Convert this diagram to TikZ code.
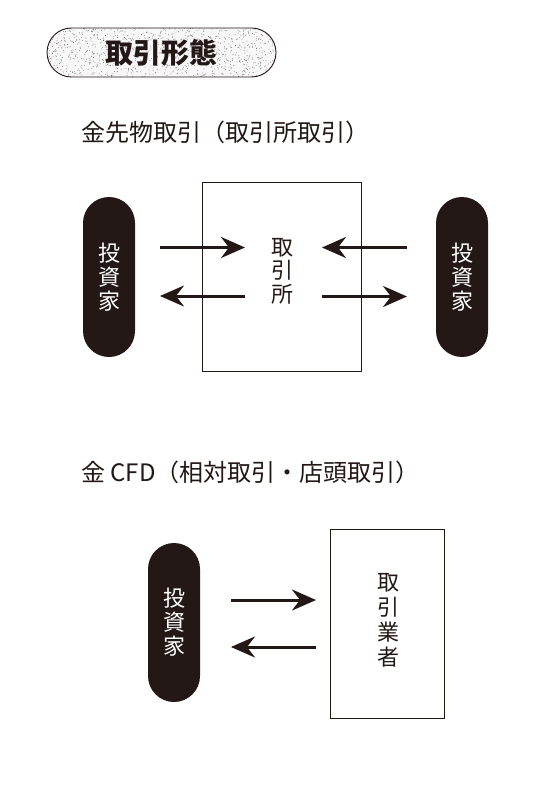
\documentclass[tikz,border=0pt]{standalone}
\usepackage{fontspec}
\setmainfont{Noto Sans CJK JP}
\usetikzlibrary{arrows.meta}
\definecolor{ink}{HTML}{231815}
\tikzset{
  investor/.style={fill=ink, text=white, rounded corners=26pt, minimum width=52pt, minimum height=160pt, inner sep=0pt, align=center, font=\fontsize{22}{24}\selectfont},
  market/.style={draw=ink, line width=0.9pt, inner sep=0pt, align=center, font=\fontsize{22}{24}\selectfont},
  flow/.style={draw=ink, line width=3pt, -{Stealth[length=24pt, width=21pt, inset=8pt]}},
  heading/.style={anchor=west, inner sep=0pt, text=ink, font=\fontsize{24}{26}\selectfont},
}
\begin{document}
\begin{tikzpicture}[x=1pt, y=-1pt]
\useasboundingbox[fill=white] (0,0) rectangle (548,810);
% header pill with stipple
\begin{scope}
  \clip[rounded corners=24.5pt] (47,28) rectangle (276,77);
  \fill[black!3] (47,28) rectangle (276,77);
  \pgfmathsetseed{11}
  \foreach \i in {1,...,1100} {
    \pgfmathsetmacro{\px}{47+229*rnd}
    \pgfmathsetmacro{\py}{28+49*rnd}
    \fill[black!60] (\px,\py) circle (0.42pt);
  }
\end{scope}
\draw[ink, line width=0.9pt, rounded corners=24.5pt] (47,28) rectangle (276,77);
\node[text=ink, font=\fontsize{28}{30}\selectfont\bfseries] (hd) at (161.5,53) {取引形態};

% section 1
\node[heading] (t1) at (81,132) {金先物取引（取引所取引）};
\node[market, minimum width=159pt, minimum height=189pt] (ex) at (282,276.5) {};
\node[ink, inner sep=0pt, align=center, font=\fontsize{22}{23.5}\selectfont] (exl) at (282,271) {取\\引\\所};
\node[investor] (invL) at (109,277) {投\\資\\家};
\node[investor] (invR) at (462,277) {投\\資\\家};

\coordinate (a1s) at (160,247.5);
\coordinate (a1e) at (245,247.5);
\coordinate (a2s) at (245,296);
\coordinate (a2e) at (160,296);
\coordinate (a3s) at (407,247.5);
\coordinate (a3e) at (322,247.5);
\coordinate (a4s) at (322,296.5);
\coordinate (a4e) at (407,296.5);
\draw[flow] (a1s) -- (a1e);
\draw[flow] (a2s) -- (a2e);
\draw[flow] (a3s) -- (a3e);
\draw[flow] (a4s) -- (a4e);

% section 2
\node[heading] (t2) at (81,472) {金 CFD（相対取引・店頭取引）};
\node[market, minimum width=114pt, minimum height=189pt] (dl) at (387.5,623.5) {};
\node[ink, inner sep=0pt, align=center, font=\fontsize{22}{25}\selectfont] (dll) at (388,620) {取\\引\\業\\者};
\node[investor, minimum height=159pt] (invC) at (174,622.5) {投\\資\\家};

\coordinate (b1s) at (231,600);
\coordinate (b1e) at (316,600);
\coordinate (b2s) at (316,647);
\coordinate (b2e) at (231,647);
\draw[flow] (b1s) -- (b1e);
\draw[flow] (b2s) -- (b2e);
\end{tikzpicture}
\end{document}
